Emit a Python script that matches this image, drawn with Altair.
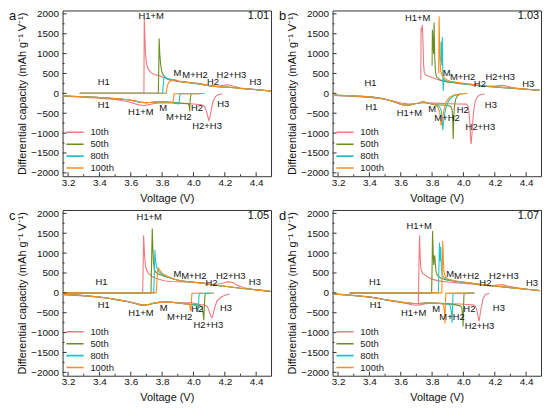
import altair as alt
import pandas as pd

FONT = "Liberation Sans, Arial, Helvetica, sans-serif"
SERIES = ["10th", "50th", "80th", "100th"]
COLORS = ["#F0787E", "#6B8E23", "#1FC4C8", "#FF8C1A"]
XDOM = [3.165, 4.495]
YDOM = [-2085, 2085]
XLABELS = [3.2, 3.4, 3.6, 3.8, 4.0, 4.2, 4.4]
XMINOR = [3.3, 3.5, 3.7, 3.9, 4.1, 4.3]
YLABELS = [-2000, -1500, -1000, -500, 0, 500, 1000, 1500, 2000]
YMINOR = [-1750, -1250, -750, -250, 250, 750, 1250, 1750]
W, H = 210, 167


def below(body, v):
    return [p for p in body if p[0] < v]


# ---------------- panel a (1.01) ----------------
A_10_CH = [(3.275, 0), (3.684, 0), (3.686, 1900), (3.690, 1450), (3.694, 1000), (3.700, 760), (3.710, 620),
           (3.730, 520), (3.750, 470), (3.780, 450), (3.810, 400), (3.840, 340), (3.870, 320), (3.900, 305),
           (3.950, 285), (4.000, 260), (4.050, 240), (4.100, 195), (4.150, 175), (4.190, 200), (4.220, 215),
           (4.250, 185), (4.300, 135), (4.350, 115), (4.400, 95), (4.450, 75), (4.495, 60)]
A_50_CH = [(3.275, 0), (3.776, 0), (3.779, 700), (3.781, 1380), (3.785, 1000), (3.790, 750), (3.797, 560),
           (3.806, 470), (3.820, 400), (3.840, 360), (3.870, 335), (3.900, 300), (3.940, 280), (3.980, 262),
           (4.020, 245), (4.060, 220), (4.100, 190), (4.140, 172), (4.180, 160), (4.220, 155), (4.260, 140),
           (4.300, 122), (4.350, 108), (4.400, 92), (4.450, 72), (4.495, 58)]
A_80_CH = [(3.275, 0), (3.803, 0), (3.807, 180), (3.811, 360), (3.815, 425), (3.820, 400), (3.835, 370),
           (3.860, 345), (3.885, 330), (3.910, 305), (3.950, 282), (3.990, 265), (4.030, 242), (4.070, 212),
           (4.110, 185), (4.150, 168), (4.200, 158), (4.250, 148), (4.300, 126), (4.350, 110), (4.400, 94),
           (4.450, 74), (4.495, 59)]
A_100_CH = [(3.275, 0), (3.826, 0), (3.830, 120), (3.838, 240), (3.848, 300), (3.865, 330), (3.885, 340),
            (3.905, 310), (3.940, 288), (3.980, 268), (4.020, 250), (4.060, 225), (4.100, 195), (4.140, 176),
            (4.190, 163), (4.240, 150), (4.290, 130), (4.340, 112), (4.390, 96), (4.440, 78), (4.495, 60)]
A_BODY = [(3.960, -255), (3.930, -248), (3.900, -240), (3.860, -228), (3.820, -218), (3.780, -212),
          (3.740, -222), (3.700, -235), (3.670, -228), (3.630, -195), (3.580, -162), (3.520, -138),
          (3.450, -118), (3.380, -102), (3.300, -86), (3.220, -72), (3.165, -62)]
A_10_BODY = [(4.050, -285), (4.000, -268), (3.950, -258), (3.900, -250), (3.850, -242), (3.800, -236),
             (3.750, -256), (3.710, -290), (3.680, -305), (3.650, -290), (3.600, -232), (3.550, -185),
             (3.500, -152), (3.400, -122), (3.300, -96), (3.200, -76), (3.165, -70)]
A_10_DC = [(4.185, -10), (4.160, -30), (4.140, -80), (4.125, -200), (4.115, -400), (4.105, -600),
           (4.098, -680), (4.090, -560), (4.080, -410), (4.070, -325)] + A_10_BODY
A_50_DC = [(4.070, -4), (4.020, -6), (3.985, -10), (3.979, -150), (3.976, -450), (3.973, -320),
           (3.967, -258)] + below(A_BODY, 3.965)
A_80_DC = [(4.070, -4), (3.960, -7), (3.915, -12), (3.911, -120), (3.908, -240), (3.903, -270),
           (3.895, -255)] + below(A_BODY, 3.89)
A_100_DC = [(4.070, -3), (3.950, -6), (3.876, -10), (3.873, -140), (3.869, -225),
            (3.862, -232)] + below(A_BODY, 3.86)
A_TEXT = [("H1+M", 3.730, 1950), ("H1", 3.427, 290), ("M", 3.897, 515), ("M+H2", 4.010, 450),
          ("H2", 4.125, 275), ("H2+H3", 4.242, 450), ("H3", 4.396, 283), ("H1", 3.427, -300),
          ("H1+M", 3.664, -475), ("M", 3.806, -360), ("M+H2", 3.906, -592), ("H2", 4.022, -375),
          ("H3", 4.190, -267), ("H2+H3", 4.087, -817)]

# ---------------- panel b (1.03) ----------------
B_10_CH = [(3.728, 340), (3.730, 1650), (3.734, 1560), (3.738, 1720), (3.742, 1300), (3.746, 700),
           (3.750, 520), (3.760, 460), (3.780, 430), (3.800, 400), (3.830, 355), (3.860, 315), (3.900, 285),
           (3.950, 265), (4.000, 245), (4.050, 225), (4.100, 200), (4.150, 185), (4.200, 185), (4.240, 205),
           (4.270, 190), (4.310, 145), (4.360, 120), (4.410, 100), (4.450, 88), (4.485, 78)]
B_50_CH = [(3.800, 700), (3.802, 1600), (3.806, 1250), (3.810, 1000), (3.813, 1780), (3.817, 900),
           (3.822, 520), (3.830, 410), (3.850, 340), (3.875, 305), (3.900, 285), (3.940, 265), (3.980, 245),
           (4.020, 228), (4.060, 208), (4.100, 190), (4.150, 172), (4.200, 160), (4.250, 145), (4.300, 130),
           (4.350, 115), (4.400, 102), (4.450, 88), (4.485, 76)]
B_80_CH = [(3.855, 800), (3.858, 1300), (3.862, 700), (3.866, 1420), (3.869, 300), (3.871, 60),
           (3.874, 360), (3.880, 330), (3.900, 300), (3.940, 272), (3.980, 250), (4.020, 232), (4.060, 210),
           (4.100, 193), (4.150, 175), (4.200, 162), (4.250, 148), (4.300, 132), (4.350, 117), (4.400, 104),
           (4.450, 90), (4.485, 78)]
B_100_CH = [(3.842, 500), (3.845, 1940), (3.849, 1000), (3.854, 580), (3.862, 470), (3.875, 400),
            (3.890, 350), (3.910, 310), (3.950, 282), (3.990, 258), (4.030, 238), (4.070, 215), (4.110, 196),
            (4.160, 178), (4.210, 165), (4.260, 150), (4.310, 134), (4.360, 118), (4.410, 104), (4.450, 90),
            (4.485, 78)]
B_BODY = [(3.820, -285), (3.790, -262), (3.760, -232), (3.740, -205), (3.720, -242), (3.690, -262),
          (3.660, -290), (3.630, -300), (3.600, -272), (3.570, -232), (3.530, -182), (3.480, -132),
          (3.420, -96), (3.350, -76), (3.280, -62), (3.200, -50), (3.165, -45)]
B_10_BODY = [(4.020, -272), (3.960, -266), (3.900, -260), (3.850, -252), (3.800, -246), (3.750, -236),
             (3.700, -256), (3.650, -272), (3.600, -242), (3.550, -192), (3.500, -142), (3.400, -102),
             (3.300, -76), (3.200, -60), (3.165, -55)]
B_10_DC = [(4.135, -15), (4.110, -30), (4.090, -80), (4.075, -200), (4.065, -450), (4.058, -800),
           (4.052, -1150), (4.049, -1270), (4.045, -1100), (4.040, -700), (4.035, -450),
           (4.028, -320)] + B_10_BODY
B_50_DC = [(3.978, -20), (3.962, -60), (3.950, -150), (3.942, -350), (3.937, -800), (3.935, -1150),
           (3.932, -700), (3.928, -420), (3.920, -330), (3.900, -305), (3.870, -292),
           (3.840, -290)] + below(B_BODY, 3.83)
B_80_DC = [(4.000, -10), (3.960, -30), (3.930, -80), (3.905, -190), (3.885, -400), (3.874, -700),
           (3.868, -920), (3.864, -620), (3.858, -420), (3.850, -360), (3.835, -310)] + below(B_BODY, 3.83)
B_100_DC = [(4.025, -5), (3.980, -15), (3.940, -40), (3.910, -100), (3.890, -210), (3.876, -420),
            (3.863, -700), (3.857, -815), (3.853, -600), (3.848, -460), (3.840, -380),
            (3.830, -320)] + below(B_BODY, 3.825)
B_TEXT = [("H1+M", 3.708, 1890), ("H1", 3.407, 267), ("M", 3.893, 500), ("M+H2", 3.995, 417),
          ("H2", 4.105, 242), ("H2+H3", 4.235, 417), ("H3", 4.414, 242), ("H1", 3.413, -333),
          ("H1+M", 3.655, -500), ("M", 3.800, -383), ("M+H2", 3.895, -615), ("H2", 3.995, -410),
          ("H3", 4.175, -300), ("H2+H3", 4.108, -858)]

# ---------------- panel c (1.05) ----------------
C_10_CH = [(3.170, 0), (3.676, 0), (3.679, 700), (3.682, 1450), (3.686, 1100), (3.690, 850), (3.695, 650),
           (3.710, 500), (3.740, 400), (3.780, 340), (3.820, 300), (3.860, 285), (3.900, 280), (3.950, 275),
           (4.000, 265), (4.050, 250), (4.100, 222), (4.150, 215), (4.190, 250), (4.220, 282), (4.250, 262),
           (4.280, 190), (4.320, 130), (4.360, 100), (4.400, 78), (4.450, 55), (4.495, 35)]
C_50_CH = [(3.170, 0), (3.729, 0), (3.733, 800), (3.737, 1617), (3.741, 1100), (3.745, 750), (3.750, 600),
           (3.760, 520), (3.780, 470), (3.810, 425), (3.850, 375), (3.900, 315), (3.950, 285), (4.000, 268),
           (4.050, 252), (4.100, 218), (4.150, 188), (4.200, 168), (4.250, 142), (4.300, 116), (4.350, 95),
           (4.400, 75), (4.450, 55), (4.495, 35)]
C_80_CH = [(3.170, 0), (3.746, 0), (3.750, 420), (3.754, 1075), (3.758, 820), (3.765, 650), (3.780, 530),
           (3.800, 465), (3.840, 395), (3.880, 340), (3.920, 302), (3.960, 282), (4.000, 266), (4.050, 250),
           (4.100, 215), (4.150, 186), (4.200, 166), (4.250, 140), (4.300, 115), (4.350, 96), (4.400, 76),
           (4.450, 56), (4.495, 36)]
C_100_CH = [(3.170, 0), (3.762, 0), (3.767, 280), (3.771, 540), (3.776, 617), (3.782, 585), (3.800, 490),
            (3.830, 425), (3.870, 355), (3.910, 310), (3.950, 287), (4.000, 268), (4.050, 250), (4.100, 214),
            (4.150, 185), (4.200, 165), (4.250, 140), (4.300, 115), (4.350, 95), (4.400, 75), (4.450, 55),
            (4.495, 35)]
C_BODY = [(3.975, -290), (3.940, -272), (3.900, -252), (3.860, -236), (3.820, -230), (3.780, -240),
          (3.750, -256), (3.720, -290), (3.690, -300), (3.660, -296), (3.620, -256), (3.580, -216),
          (3.520, -176), (3.460, -136), (3.400, -106), (3.320, -76), (3.240, -52), (3.165, -40)]
C_10_BODY = [(4.050, -300), (4.020, -272), (3.980, -252), (3.950, -250), (3.900, -246), (3.850, -236),
             (3.800, -236), (3.750, -262), (3.700, -312), (3.670, -320), (3.630, -272), (3.580, -222),
             (3.520, -182), (3.460, -142), (3.400, -112), (3.300, -76), (3.200, -50), (3.165, -45)]
C_10_DC = [(4.232, -30), (4.210, -50), (4.180, -100), (4.150, -200), (4.135, -380), (4.124, -560),
           (4.118, -625), (4.110, -580), (4.100, -460), (4.090, -360), (4.075, -315),
           (4.060, -302)] + C_10_BODY
C_50_DC = [(4.130, -5), (4.090, -10), (4.075, -20), (4.071, -220), (4.068, -500), (4.066, -685),
           (4.062, -520), (4.055, -360), (4.040, -315), (4.020, -302), (4.000, -296),
           (3.985, -292)] + below(C_BODY, 3.98)
C_80_DC = [(4.100, -5), (4.050, -10), (4.036, -20), (4.033, -250), (4.029, -485), (4.024, -400),
           (4.015, -320), (4.000, -302), (3.985, -294)] + below(C_BODY, 3.98)
C_100_DC = [(4.060, -5), (4.010, -10), (3.990, -18), (3.987, -200), (3.984, -465), (3.979, -380),
            (3.976, -300)] + below(C_BODY, 3.975)
C_TEXT = [("H1+M", 3.718, 1908), ("H1", 3.413, 283), ("M", 3.897, 475), ("M+H2", 4.003, 417),
          ("H2", 4.115, 242), ("H2+H3", 4.238, 417), ("H3", 4.392, 267), ("H1", 3.427, -317),
          ("H1+M", 3.665, -500), ("M", 3.810, -383), ("M+H2", 3.912, -617), ("H2", 4.025, -412),
          ("H3", 4.207, -375), ("H2+H3", 4.095, -817)]

# ---------------- panel d (1.07) ----------------
D_10_CH = [(3.275, 0), (3.712, 0), (3.713, -290), (3.716, 700), (3.720, 1450), (3.724, 900), (3.728, 620),
           (3.740, 490), (3.770, 405), (3.800, 345), (3.840, 302), (3.900, 272), (3.960, 252), (4.050, 222),
           (4.120, 192), (4.180, 176), (4.220, 198), (4.250, 206), (4.280, 172), (4.330, 132), (4.400, 96),
           (4.485, 55)]
D_50_CH = [(3.275, 0), (3.797, 0), (3.800, 620), (3.803, 1558), (3.807, 1000), (3.810, 700), (3.813, 880),
           (3.817, 940), (3.821, 700), (3.826, 520), (3.835, 430), (3.860, 362), (3.900, 318), (3.950, 290),
           (4.000, 265), (4.050, 240), (4.100, 214), (4.150, 190), (4.200, 170), (4.250, 150), (4.300, 130),
           (4.350, 110), (4.400, 90), (4.450, 70), (4.485, 56)]
D_80_CH = [(3.275, 0), (3.840, 0), (3.843, 520), (3.847, 1267), (3.851, 800), (3.855, 1150), (3.859, 620),
           (3.865, 440), (3.880, 365), (3.900, 332), (3.950, 295), (4.000, 268), (4.050, 242), (4.100, 216),
           (4.150, 192), (4.200, 172), (4.250, 152), (4.300, 131), (4.350, 111), (4.400, 91), (4.450, 71),
           (4.485, 56)]
D_100_CH = [(3.275, 0), (3.862, 0), (3.865, 600), (3.868, 1308), (3.872, 820), (3.876, 520), (3.885, 405),
            (3.900, 345), (3.950, 300), (4.000, 272), (4.050, 245), (4.100, 218), (4.150, 194), (4.200, 174),
            (4.250, 153), (4.300, 132), (4.350, 112), (4.400, 92), (4.450, 72), (4.485, 57)]
D_BODY = [(3.980, -320), (3.950, -302), (3.920, -286), (3.880, -272), (3.840, -262), (3.800, -256),
          (3.760, -256), (3.720, -266), (3.680, -266), (3.640, -252), (3.600, -232), (3.550, -202),
          (3.500, -172), (3.450, -136), (3.400, -106), (3.330, -80), (3.250, -50), (3.165, -30)]
D_10_BODY = [(4.060, -302), (4.020, -292), (3.980, -282), (3.940, -276), (3.900, -272), (3.850, -266),
             (3.800, -262), (3.760, -272), (3.720, -302), (3.690, -312), (3.650, -282), (3.600, -242),
             (3.550, -212), (3.500, -172), (3.450, -132), (3.400, -102), (3.300, -62), (3.220, -36),
             (3.165, -30)]
D_10_DC = [(4.165, -10), (4.140, -40), (4.125, -150), (4.112, -400), (4.100, -710), (4.094, -620),
           (4.086, -440), (4.076, -335), (4.066, -308)] + D_10_BODY
D_50_DC = [(4.070, -5), (4.030, -8), (4.004, -15), (4.001, -300), (3.998, -845), (3.995, -600),
           (3.990, -385), (3.984, -330)] + below(D_BODY, 3.98)
D_80_DC = [(4.070, -5), (3.960, -8), (3.934, -15), (3.931, -300), (3.928, -750), (3.924, -500),
           (3.917, -340), (3.908, -295)] + below(D_BODY, 3.905)
D_100_DC = [(4.065, -5), (3.950, -8), (3.888, -12), (3.885, -300), (3.882, -770), (3.879, -500),
            (3.874, -320), (3.868, -285)] + below(D_BODY, 3.865)
D_TEXT = [("H1+M", 3.717, 1683), ("H1", 3.436, 283), ("M", 3.915, 475), ("M+H2", 4.020, 425),
          ("H2", 4.140, 235), ("H2+H3", 4.258, 433), ("H3", 4.437, 242), ("H1", 3.440, -317),
          ("H1+M", 3.683, -500), ("M", 3.826, -400), ("M+H2", 3.927, -617), ("H2", 4.038, -412),
          ("H3", 4.226, -375), ("H2+H3", 4.103, -833)]

PANELS = [
    ("a", "1.01", [A_10_CH, A_10_DC], [A_50_CH, A_50_DC], [A_80_CH, A_80_DC], [A_100_CH, A_100_DC], A_TEXT),
    ("b", "1.03", [B_10_CH, B_10_DC], [B_50_CH, B_50_DC], [B_80_CH, B_80_DC], [B_100_CH, B_100_DC], B_TEXT),
    ("c", "1.05", [C_10_CH, C_10_DC], [C_50_CH, C_50_DC], [C_80_CH, C_80_DC], [C_100_CH, C_100_DC], C_TEXT),
    ("d", "1.07", [D_10_CH, D_10_DC], [D_50_CH, D_50_DC], [D_80_CH, D_80_DC], [D_100_CH, D_100_DC], D_TEXT),
]

FRAME = "#333333"


def make_panel(letter, tag, s10, s50, s80, s100, texts):
    rows = []
    for name, segs in zip(SERIES, [s10, s50, s80, s100]):
        for k, pts in enumerate(segs):
            for i, (v, q) in enumerate(pts):
                rows.append({"series": name, "seg": f"{name}-{k}", "i": i, "V": v, "dQ": q})
    df = pd.DataFrame(rows)

    X = alt.X("V:Q", scale=alt.Scale(domain=XDOM, nice=False, zero=False),
              axis=alt.Axis(values=XLABELS, format=".1f", title="Voltage (V)", ticks=False, grid=False,
                            domain=False, labelPadding=1, titlePadding=5, labelFlush=False))
    Y = alt.Y("dQ:Q", scale=alt.Scale(domain=YDOM, nice=False, zero=False),
              axis=alt.Axis(values=YLABELS, format="d", title="Differential capacity (mAh g\u207b\u00b9 V\u207b\u00b9)",
                            ticks=False, grid=False, domain=False, labelPadding=4, titlePadding=3,
                            labelFlush=False))

    lines = alt.Chart(df).mark_line(strokeWidth=1.1, clip=True).encode(
        x=X, y=Y,
        color=alt.Color("series:N", scale=alt.Scale(domain=SERIES, range=COLORS),
                        legend=alt.Legend(title=None, orient="none", legendX=3, legendY=117,
                                          symbolType="stroke", symbolSize=300, symbolStrokeWidth=1.6,
                                          labelFontSize=9.5, labelFont=FONT, labelColor="#222",
                                          rowPadding=0, clipHeight=11.5, padding=0, labelOffset=6,
                                          symbolOffset=0)),
        detail="seg:N",
        order="i:Q",
    )

    tdf = pd.DataFrame({"t": [t[0] for t in texts], "V": [t[1] for t in texts], "dQ": [t[2] for t in texts]})
    labels = alt.Chart(tdf).mark_text(fontSize=9.5, font=FONT, color="#111").encode(x=X, y=Y, text="t:N")

    xmaj = alt.Chart(pd.DataFrame({"V": XLABELS})).mark_rule(color=FRAME, strokeWidth=1).encode(
        x=X, y=alt.value(H), y2=alt.value(H - 4))
    xmin = alt.Chart(pd.DataFrame({"V": XMINOR})).mark_rule(color=FRAME, strokeWidth=1).encode(
        x=X, y=alt.value(H), y2=alt.value(H - 2))
    ymaj = alt.Chart(pd.DataFrame({"dQ": YLABELS})).mark_rule(color=FRAME, strokeWidth=1).encode(
        y=Y, x=alt.value(0), x2=alt.value(4))
    ymin = alt.Chart(pd.DataFrame({"dQ": YMINOR})).mark_rule(color=FRAME, strokeWidth=1).encode(
        y=Y, x=alt.value(0), x2=alt.value(2))

    tagtxt = alt.Chart(pd.DataFrame({"t": [tag]})).mark_text(
        fontSize=11, font=FONT, color="#111", align="right", baseline="top").encode(
        text="t:N", x=alt.value(W - 2), y=alt.value(0))
    lettxt = alt.Chart(pd.DataFrame({"t": [letter]})).mark_text(
        fontSize=13, font=FONT, color="#111", align="left", baseline="alphabetic").encode(
        text="t:N", x=alt.value(-54), y=alt.value(10))

    return alt.layer(lines, labels, xmaj, xmin, ymaj, ymin, tagtxt, lettxt).properties(width=W, height=H)


panels = [make_panel(*p) for p in PANELS]

chart = alt.concat(*panels, columns=2, spacing={"row": 3, "column": 6}).resolve_legend(
    color="independent").properties(
    padding={"left": 0, "right": 0, "top": -2, "bottom": 0}
).configure(font=FONT, background="white").configure_view(
    stroke=FRAME, strokeWidth=1
).configure_axis(
    labelFont=FONT, titleFont=FONT, labelFontSize=10, titleFontSize=11, titleFontWeight="normal",
    labelColor="#111", titleColor="#111"
)

chart.save("out.html", embed_options={"renderer": "svg", "actions": False})
